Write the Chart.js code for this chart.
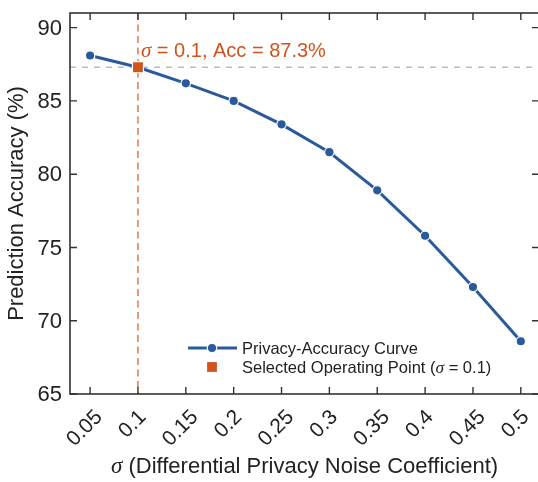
<!DOCTYPE html>
<html><head><meta charset="utf-8">
<script src="https://cdn.jsdelivr.net/npm/chart.js@4.4.1/dist/chart.umd.min.js"></script>
<style>html,body{margin:0;padding:0;background:#fff;overflow:hidden;} #wrap{width:542px;height:482px;}</style>
</head><body><div id="wrap"><canvas id="c" width="542" height="482"></canvas></div>
<script>
const sigmaValues = [0.05, 0.1, 0.15, 0.2, 0.25, 0.3, 0.35, 0.4, 0.45, 0.5];
const accuracyValues = [88.1, 87.3, 86.2, 85.0, 83.4, 81.5, 78.9, 75.8, 72.3, 68.6];
const xTickLabels = ['0.05', '0.1', '0.15', '0.2', '0.25', '0.3', '0.35', '0.4', '0.45', '0.5'];
const yTickValues = [65, 70, 75, 80, 85, 90];
const yTickLabels = ['65', '70', '75', '80', '85', '90'];
const selectedSigma = 0.1;
const selectedAcc = 87.3;
const curveLabel = 'Privacy-Accuracy Curve';
const pointLabelParts = ['Selected Operating Point (', 'σ', ' = 0.1)'];
const annotationParts = ['σ', ' = 0.1, Acc = 87.3%'];
const xTitleParts = ['σ', ' (Differential Privacy Noise Coefficient)'];
const yTitle = 'Prediction Accuracy (%)';

const FONT = "'Liberation Sans', Arial, sans-serif";
const SERIF = "'Liberation Serif', 'DejaVu Serif', serif";
const BLUE = '#2a5a9b';
const ORANGE = '#d1541c';
const TEXT = '#222222';

function drawParts(ctx, parts, size, x, y, align) {
  const fonts = parts.map(p => p === 'σ' ? `italic ${size * 1.05}px ${SERIF}` : `${size}px ${FONT}`);
  let total = 0;
  const widths = parts.map((p, i) => { ctx.font = fonts[i]; const w = ctx.measureText(p).width; total += w; return w; });
  let cx = align === 'center' ? x - total / 2 : x;
  ctx.textAlign = 'left';
  parts.forEach((p, i) => { ctx.font = fonts[i]; ctx.fillText(p, cx, y); cx += widths[i]; });
}

const decorPlugin = {
  id: 'decor',
  beforeDatasetsDraw(chart) {
    const {ctx, chartArea: a, scales: {x, y}} = chart;
    const py = y.getPixelForValue(selectedAcc);
    const px = x.getPixelForValue(selectedSigma);
    ctx.save();
    ctx.lineWidth = 1.5;
    ctx.strokeStyle = '#bdbdbd';
    ctx.setLineDash([6, 6]);
    ctx.beginPath(); ctx.moveTo(a.left, py); ctx.lineTo(a.right, py); ctx.stroke();
    ctx.strokeStyle = 'rgba(209,84,28,0.65)';
    ctx.lineWidth = 1.8;
    ctx.setLineDash([7, 4.5]);
    ctx.beginPath(); ctx.moveTo(px, a.top); ctx.lineTo(px, a.bottom); ctx.stroke();
    ctx.restore();
  },
  afterDatasetsDraw(chart) {
    const {ctx, chartArea: a, scales: {x, y}} = chart;
    ctx.save();
    ctx.strokeStyle = '#333';
    ctx.lineWidth = 1.6;
    ctx.strokeRect(a.left, a.top, a.right - a.left, a.bottom - a.top);
    ctx.lineWidth = 1.4;
    ctx.beginPath();
    sigmaValues.forEach(v => {
      const px = x.getPixelForValue(v);
      ctx.moveTo(px, a.bottom); ctx.lineTo(px, a.bottom - 7);
      ctx.moveTo(px, a.top); ctx.lineTo(px, a.top + 7);
    });
    yTickValues.forEach(v => {
      const py = y.getPixelForValue(v);
      ctx.moveTo(a.left, py); ctx.lineTo(a.left + 7, py);
      ctx.moveTo(a.right, py); ctx.lineTo(a.right - 7, py);
    });
    ctx.stroke();
    ctx.fillStyle = TEXT;
    ctx.font = `22px ${FONT}`;
    ctx.textAlign = 'right';
    ctx.textBaseline = 'middle';
    yTickValues.forEach((v, i) => {
      ctx.fillText(yTickLabels[i], a.left - 8, y.getPixelForValue(v) + 1);
    });
    ctx.font = `21px ${FONT}`;
    ctx.textAlign = 'center';
    sigmaValues.forEach((v, i) => {
      const px = x.getPixelForValue(v);
      const w = ctx.measureText(xTickLabels[i]).width;
      const h = 15;
      const cy = a.bottom + 14 + (w + h) * 0.7071 / 2;
      ctx.save();
      ctx.translate(px - 6, cy);
      ctx.rotate(-Math.PI / 4);
      ctx.fillText(xTickLabels[i], 0, 1);
      ctx.restore();
    });
    ctx.textBaseline = 'alphabetic';
    drawParts(ctx, xTitleParts, 22, (a.left + a.right) / 2, 473, 'center');
    ctx.fillStyle = ORANGE;
    drawParts(ctx, annotationParts, 20, x.getPixelForValue(selectedSigma) + 3, y.getPixelForValue(selectedAcc) - 10, 'left');
    const r1 = a.bottom - 46, r2 = a.bottom - 27;
    const hx = a.left + 142;
    ctx.strokeStyle = BLUE; ctx.lineWidth = 3;
    ctx.beginPath(); ctx.moveTo(a.left + 118, r1); ctx.lineTo(a.left + 167, r1); ctx.stroke();
    ctx.fillStyle = BLUE; ctx.strokeStyle = '#fff'; ctx.lineWidth = 1.2;
    ctx.beginPath(); ctx.arc(hx, r1, 4.7, 0, Math.PI * 2); ctx.fill(); ctx.stroke();
    ctx.fillStyle = ORANGE;
    ctx.fillRect(hx - 5.5, r2 - 5.5, 11, 11);
    ctx.strokeRect(hx - 5.5, r2 - 5.5, 11, 11);
    ctx.fillStyle = TEXT;
    ctx.textBaseline = 'middle';
    drawParts(ctx, [curveLabel], 16.5, a.left + 172, r1 + 1, 'left');
    drawParts(ctx, pointLabelParts, 16.5, a.left + 172, r2 + 1, 'left');
    ctx.restore();
  }
};

new Chart(document.getElementById('c'), {
  type: 'line',
  data: {
    datasets: [
      {
        label: 'Selected Operating Point',
        data: [{x: selectedSigma, y: selectedAcc}],
        showLine: false,
        pointStyle: 'rect',
        pointRadius: 7.8,
        pointBackgroundColor: ORANGE,
        pointBorderColor: '#fff',
        pointBorderWidth: 1.2,
        order: 0
      },
      {
        label: curveLabel,
        data: sigmaValues.map((s, i) => ({x: s, y: accuracyValues[i]})),
        borderColor: BLUE,
        borderWidth: 3,
        pointRadius: 4.7,
        pointBackgroundColor: BLUE,
        pointBorderColor: '#fff',
        pointBorderWidth: 1.2,
        tension: 0,
        order: 1
      }
    ]
  },
  options: {
    responsive: false,
    animation: false,
    devicePixelRatio: 1,
    layout: {autoPadding: false, padding: {top: 13, right: 3, left: 0, bottom: 0}},
    plugins: {legend: {display: false}, tooltip: {enabled: false}},
    scales: {
      x: {
        type: 'linear', min: 0.029, max: 0.519,
        afterBuildTicks: s => { s.ticks = sigmaValues.map(v => ({value: v})); },
        afterFit: s => { s.height = 88; },
        grid: {display: false, drawTicks: false},
        border: {display: false},
        ticks: {display: false}
      },
      y: {
        type: 'linear', min: 65, max: 91,
        afterBuildTicks: s => { s.ticks = yTickValues.map(v => ({value: v})); },
        afterFit: s => { s.width = 70; s.paddingTop = 0; s.paddingBottom = 0; },
        grid: {display: false, drawTicks: false},
        border: {display: false},
        ticks: {display: false},
        title: {display: true, text: yTitle, font: {family: FONT, size: 22}, color: TEXT, padding: {top: 4, bottom: 0}}
      }
    }
  },
  plugins: [decorPlugin]
});
</script>
</body></html>
